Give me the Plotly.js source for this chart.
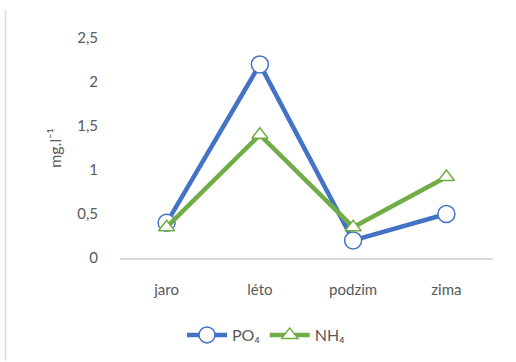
<!DOCTYPE html>
<html>
<head>
<meta charset="utf-8">
<script src="https://cdn.plot.ly/plotly-3.0.1.min.js"></script>
<style>
  html, body { margin: 0; padding: 0; background: #fff; }
  #chart { width: 516px; height: 362px; }
</style>
</head>
<body>
<div id="chart"></div>
<script>
// Seasons and concentrations (mg/l)
const seasons = ["jaro", "léto", "podzim", "zima"];
const po4 = [0.4, 2.2, 0.2, 0.5];
const nh4 = [0.35, 1.4, 0.35, 0.92];
const yTicks = [0, 0.5, 1, 1.5, 2, 2.5];

const FONT = "Lato, 'Open Sans', 'Noto Sans', sans-serif";
const GREY = "#595959";

const traces = [
  {
    x: seasons, y: po4, name: "PO₄", type: "scatter", mode: "lines+markers",
    line: { color: "#4472C4", width: 4.5 },
    marker: { symbol: "circle", size: 17, color: "#ffffff", line: { color: "#4472C4", width: 1.5 } }
  },
  {
    x: seasons, y: nh4, name: "NH₄", type: "scatter", mode: "lines+markers",
    line: { color: "#70AD47", width: 4.5 },
    marker: { symbol: "triangle-up", size: 14, color: "#ffffff", line: { color: "#70AD47", width: 1.5 } }
  }
];

const L = 120, R = 23, T = 38, B = 103;
const plotW = 516 - L - R, plotH = 362 - T - B;

const layout = {
  width: 516, height: 362,
  margin: { l: L, r: R, t: T, b: B },
  paper_bgcolor: "#ffffff", plot_bgcolor: "#ffffff",
  separators: ",.",
  font: { family: FONT, color: GREY, size: 15 },
  showlegend: true,
  legend: {
    orientation: "h", x: (266 - L) / plotW, xanchor: "center",
    y: (362 - B - 335) / plotH, yanchor: "middle",
    font: { family: FONT, size: 16, color: GREY },
    itemwidth: 40, traceorder: "normal"
  },
  xaxis: {
    type: "category", range: [-0.5, 3.5],
    showgrid: false, zeroline: false,
    showline: true, linecolor: "#d9d9d9", linewidth: 1.5,
    ticks: "", ticklabelstandoff: 17,
    tickfont: { family: FONT, size: 15, color: GREY },
    fixedrange: true
  },
  yaxis: {
    range: [0, 2.5], tickvals: yTicks,
    showgrid: false, zeroline: false, showline: false,
    ticks: "", ticklabelstandoff: 21,
    tickfont: { family: FONT, size: 15, color: GREY },
    title: { text: "mg.l⁻¹", font: { family: FONT, size: 16, color: GREY }, standoff: 11 },
    fixedrange: true
  },
  shapes: [
    {
      type: "line", xref: "paper", yref: "paper",
      x0: (5.5 - L) / plotW, x1: (5.5 - L) / plotW,
      // frame edge from 10px below the page top down to the page bottom
      y0: (362 - B - 362) / plotH,
      y1: (362 - B - 10) / plotH,
      line: { color: "#d9d9d9", width: 1.5 }
    }
  ]
};

Plotly.newPlot("chart", traces, layout, { displayModeBar: false, staticPlot: true });
</script>
</body>
</html>
